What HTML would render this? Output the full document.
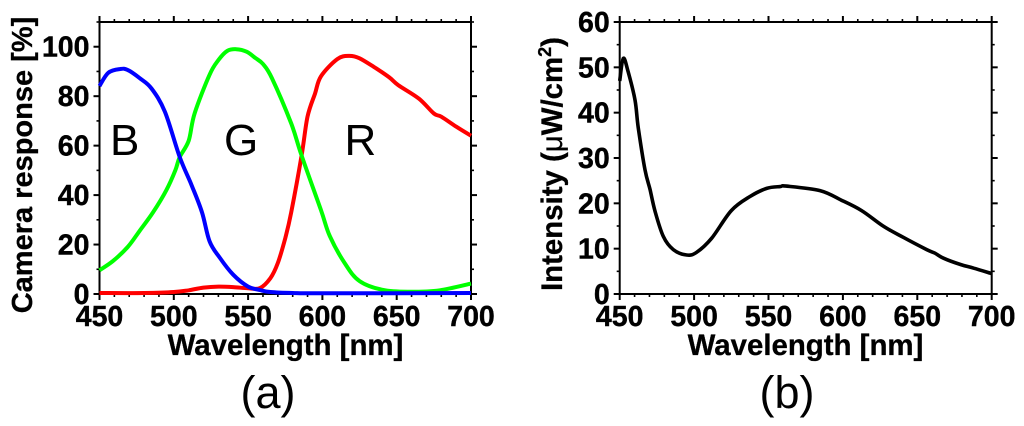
<!DOCTYPE html>
<html>
<head>
<meta charset="utf-8">
<title>Camera response and intensity spectra</title>
<style>
html,body{margin:0;padding:0;background:#fff;width:1024px;height:426px;overflow:hidden}
svg{display:block}
text{font-family:"Liberation Sans",sans-serif;fill:#000}
.tick{font-weight:bold;font-size:28.5px;stroke:#000;stroke-width:.4px}
.title{font-weight:bold;font-size:29px;stroke:#000;stroke-width:.3px}
.title-x{font-weight:bold;font-size:29.4px;stroke:#000;stroke-width:.3px}
.big{font-size:44px}
.panel{font-size:45px}
</style>
</head>
<body>
<svg id="chart" width="1024" height="426" viewBox="0 0 1024 426" xmlns="http://www.w3.org/2000/svg"></svg>
<script>
const xTickLabels = [450, 500, 550, 600, 650, 700];
const yTickLabelsA = [0, 20, 40, 60, 80, 100];
const yTickLabelsB = [0, 10, 20, 30, 40, 50, 60];

const blueWl = [450,456,464,469,477,485,494,504,512,519,524,531,540,550,558,565,580,600,700];
const blueVal = [84.1,89.5,91,90.6,87.3,83.1,73.7,55.4,44,33,21.4,14.6,7.8,3,1.6,0.8,0.4,0.3,0.4];
const greenWl = [450,459,469,477,486,495,501,504,510,514,524,530,536,542,549,555,560,566,579,586,599,605,615,625,641,659,679,700];
const greenVal = [9.6,13.3,19,25.5,33,42,50,55.4,62,73,88.6,94.6,98.3,99,98,95.4,93,87.3,69,56,34,23.4,12.5,5.2,1.6,0.9,1.5,4.2];
const redWl = [450,480,500,510,520,530,540,550,558,565,570,575,579,586,590,595,599,610,618,625,636,645,651,665,675,680,690,700];
const redVal = [0.4,0.4,0.8,1.5,2.6,3,2.8,2.3,2.4,6.4,12.5,22.6,33,56,71.7,81,88,95,96.3,95.3,91.3,87.6,84.5,79,73,71.7,67.7,64];
const blackWl = [450,452.4,455.7,460.3,462.5,467,470.4,473.8,479.3,486,495,501.7,511.8,525,537.6,548.8,557.8,562,584.6,599,612.6,627,640.6,656.3,661.9,667.6,679,688,700];
const blackVal = [47,52,49,42.8,36.6,27.4,23,18.2,12.7,9.8,8.6,9.2,12.3,18.4,21.5,23.3,23.7,23.8,22.8,20.7,18.4,15,12.5,9.8,9,7.9,6.5,5.7,4.5];

const svg = document.getElementById('chart');
const NS = 'http://www.w3.org/2000/svg';

function make(tag, attrs, text) {
  const el = document.createElementNS(NS, tag);
  for (const k in attrs) el.setAttribute(k, attrs[k]);
  if (text !== undefined) el.textContent = text;
  svg.appendChild(el);
  return el;
}

function frame(left, right, top, bottom, yMax, yMajor, yMinor, labels) {
  const sx = v => left + (v - 450) * (right - left) / 250;
  const sy = v => bottom - v * (bottom - top) / yMax;
  const line = (x1, y1, x2, y2, w, name) => {
    const l = make('line', {x1, y1, x2, y2, stroke: '#000', 'stroke-width': w});
    
    
  };
  line(left, top - 1, left, bottom + 1, 2, 'left-axis');
  line(right, top - 1, right, bottom + 1, 2, 'right-axis');
  line(left - 1, top, right + 1, top, 2, 'top-axis');
  line(left - 1, bottom, right + 1, bottom, 2, 'bottom-axis');
  for (let w = 450; w <= 700; w += 10) {
    const major = (w - 450) % 50 === 0;
    const len = major ? 6 : 3;
    line(sx(w), bottom, sx(w), bottom + len, major ? 2 : 1.6, 'x-tick-bottom');
    line(sx(w), top, sx(w), top - len, major ? 2 : 1.6, 'x-tick-top');
  }
  for (let v = 0; v <= yMax + 0.001; v += yMinor) {
    const major = Math.abs(v / yMajor - Math.round(v / yMajor)) < 0.001;
    const len = major ? 6 : 3;
    line(left, sy(v), left - len, sy(v), major ? 2 : 1.6, 'y-tick-left');
    line(right, sy(v), right + len, sy(v), major ? 2 : 1.6, 'y-tick-right');
  }
  xTickLabels.forEach(v => {
    const t = make('text', {class: 'tick', x: sx(v), y: 326, 'text-anchor': 'middle'}, v);
    
    
  });
  labels.forEach(v => {
    const t = make('text', {class: 'tick', x: left - 10, y: sy(v) + 10, 'text-anchor': 'end'}, v);
    
    
  });
  return {sx, sy};
}

function series(axes, wl, val, color, width, name) {
  const pts = wl.map((w, i) => [axes.sx(w), axes.sy(val[i])]);
  let d = 'M' + pts[0][0].toFixed(1) + ' ' + pts[0][1].toFixed(1);
  for (let i = 0; i < pts.length - 1; i++) {
    const p0 = pts[Math.max(i - 1, 0)], p1 = pts[i], p2 = pts[i + 1], p3 = pts[Math.min(i + 2, pts.length - 1)];
    const c1x = p1[0] + (p2[0] - p0[0]) / 6, c1y = p1[1] + (p2[1] - p0[1]) / 6;
    const c2x = p2[0] - (p3[0] - p1[0]) / 6, c2y = p2[1] - (p3[1] - p1[1]) / 6;
    d += ' C' + c1x.toFixed(1) + ' ' + c1y.toFixed(1) + ' ' + c2x.toFixed(1) + ' ' + c2y.toFixed(1) + ' ' + p2[0].toFixed(1) + ' ' + p2[1].toFixed(1);
  }
  const p = make('path', {d, fill: 'none', stroke: color, 'stroke-width': width, 'stroke-linejoin': 'round', 'stroke-linecap': 'butt'});
  
  
}

function label(cls, x, y, str, name, extra) {
  const t = make('text', Object.assign({class: cls, x, y}, extra || {}), str);
  
  
  return t;
}

const axesA = frame(99.5, 471, 22, 294, 110, 20, 10, yTickLabelsA);
series(axesA, redWl, redVal, '#ff0000', 4, 'red-channel-line');
series(axesA, greenWl, greenVal, '#00ff00', 4, 'green-channel-line');
series(axesA, blueWl, blueVal, '#0000ff', 4, 'blue-channel-line');
label('big', 110, 155, 'B', 'blue-channel-label');
label('big', 224, 155, 'G', 'green-channel-label');
label('big', 344.5, 155, 'R', 'red-channel-label');
label('title-x', 285.5, 355, 'Wavelength [nm]', 'x-axis-title-a', {'text-anchor': 'middle'});
label('title', 0, 0, 'Camera response [%]', 'y-axis-title-a', {'text-anchor': 'middle', transform: 'translate(32,165) rotate(-90)'});
label('panel', 268, 408, '(a)', 'panel-label-a', {'text-anchor': 'middle'});

const axesB = frame(619.7, 991.7, 22, 294, 60, 10, 5, yTickLabelsB);
series(axesB, blackWl, blackVal, '#000000', 3.6, 'intensity-line');
label('title-x', 805.5, 355, 'Wavelength [nm]', 'x-axis-title-b', {'text-anchor': 'middle'});
const yb = label('title-x', 0, 0, '', 'y-axis-title-b', {transform: 'translate(562,291) rotate(-90)'});
yb.innerHTML = 'Intensity (<tspan font-weight="normal">μ</tspan>W/cm<tspan dy="-11" font-size="18">2</tspan><tspan dy="11">)</tspan>';
label('panel', 787, 408, '(b)', 'panel-label-b', {'text-anchor': 'middle'});
</script>
</body>
</html>
